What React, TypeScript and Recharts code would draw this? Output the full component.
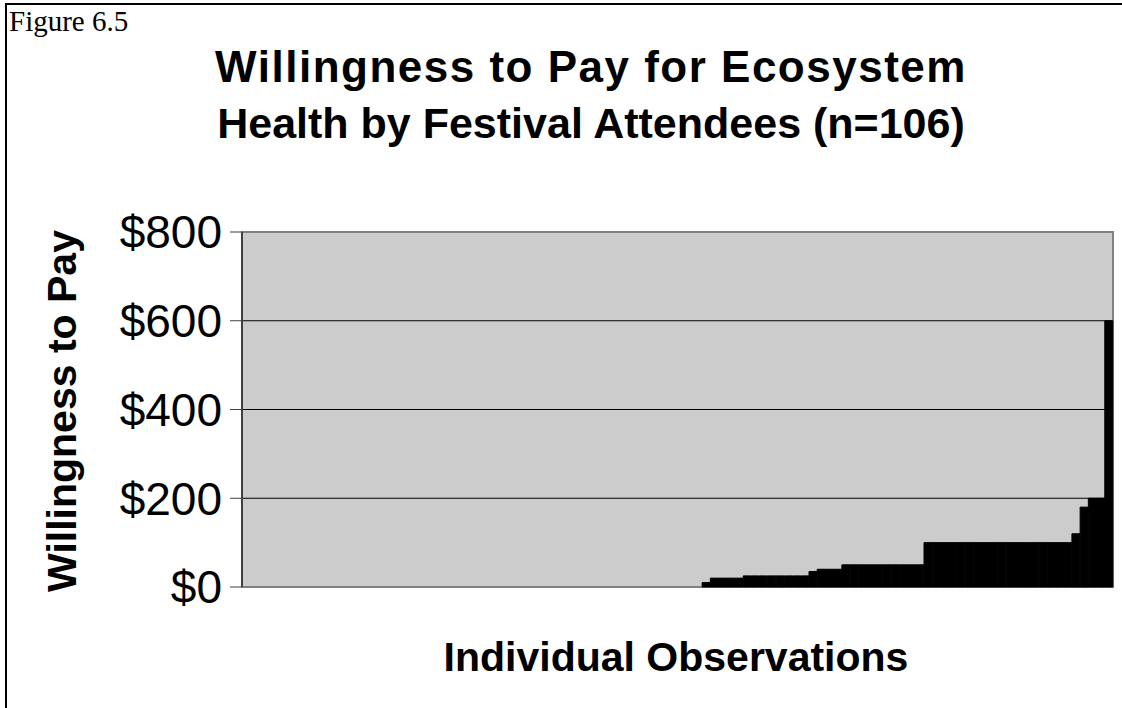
import React from "react";
import { BarChart, Bar, XAxis, YAxis, CartesianGrid, ReferenceArea } from "recharts";

// willingness to pay per respondent, sorted ascending (n=106)
const wtpValues: number[] = [
  0, 0, 0, 0, 0, 0, 0, 0, 0, 0,
  0, 0, 0, 0, 0, 0, 0, 0, 0, 0,
  0, 0, 0, 0, 0, 0, 0, 0, 0, 0,
  0, 0, 0, 0, 0, 0, 0, 0, 0, 0,
  0, 0, 0, 0, 0, 0, 0, 0, 0, 0,
  0, 0, 0, 0, 0, 0,
  10,
  20, 20, 20, 20,
  25, 25, 25, 25, 25, 25, 25, 25,
  35,
  40, 40, 40,
  50, 50, 50, 50, 50, 50, 50, 50, 50, 50,
  100, 100, 100, 100, 100, 100, 100, 100, 100,
  100, 100, 100, 100, 100, 100, 100, 100, 100,
  120, 180, 200, 200, 600,
];

const yTicks = [0, 200, 400, 600, 800];
const gridValues = [200, 400, 600];

const chartTitle = ["Willingness to Pay for Ecosystem", "Health by Festival Attendees (n=106)"];
const figureLabel = "Figure 6.5";
const yLabel = "Willingness to Pay";
const xLabel = "Individual Observations";

const sans = "'Liberation Sans', Arial, sans-serif";

export default function App() {
  const data = wtpValues.map((v, i) => ({ obs: i + 1, wtp: v }));

  return (
    <div style={{ position: "absolute", left: 0, top: 0, width: 1122, height: 708, background: "#fff", overflow: "hidden" }}>
      <div style={{ position: "absolute", left: 5, top: 3, width: 1130, height: 720, borderLeft: "2px solid #000", borderTop: "2px solid #000" }} />
      <div style={{ position: "absolute", left: 9, top: 6, lineHeight: "30px", fontFamily: "'Liberation Serif', 'Times New Roman', serif", fontSize: 29 }}>
        {figureLabel}
      </div>
      <div style={{ position: "absolute", left: 0, width: 1182, top: 38, textAlign: "center", fontFamily: sans, fontWeight: "bold", lineHeight: "57px" }}>
        <div style={{ fontSize: 44, letterSpacing: 1.5 }}>{chartTitle[0]}</div>
        <div style={{ fontSize: 43 }}>{chartTitle[1]}</div>
      </div>
      <BarChart
        width={1122}
        height={708}
        data={data}
        barCategoryGap={0}
        margin={{ top: 232, right: 9, bottom: 121, left: 0 }}
      >
        <CartesianGrid fill="#cccccc" stroke="#000" vertical={false} horizontalValues={gridValues} />
        <ReferenceArea y1={0} y2={800} fill="none" stroke="#808080" strokeWidth={2} />
        <XAxis dataKey="obs" tick={false} height={0} axisLine={{ stroke: "#808080", strokeWidth: 2 }} tickLine={false} />
        <YAxis
          width={242}
          domain={[0, 800]}
          ticks={yTicks}
          tickFormatter={(v) => `$${v}`}
          tickSize={12}
          tickMargin={8}
          axisLine={{ stroke: "#404040", strokeWidth: 2 }}
          tickLine={{ stroke: "#404040" }}
          tick={{ fill: "#000", fontSize: 46, fontFamily: sans }}
        />
        <Bar dataKey="wtp" fill="#000" stroke="#000" strokeWidth={1} isAnimationActive={false} />
      </BarChart>
      <div style={{ position: "absolute", left: 62, top: 411, transform: "translate(-50%, -50%) rotate(-90deg)", whiteSpace: "nowrap", fontFamily: sans, fontWeight: "bold", fontSize: 41 }}>
        {yLabel}
      </div>
      <div style={{ position: "absolute", left: 676, top: 657, transform: "translate(-50%, -50%)", whiteSpace: "nowrap", fontFamily: sans, fontWeight: "bold", fontSize: 41 }}>
        {xLabel}
      </div>
    </div>
  );
}
